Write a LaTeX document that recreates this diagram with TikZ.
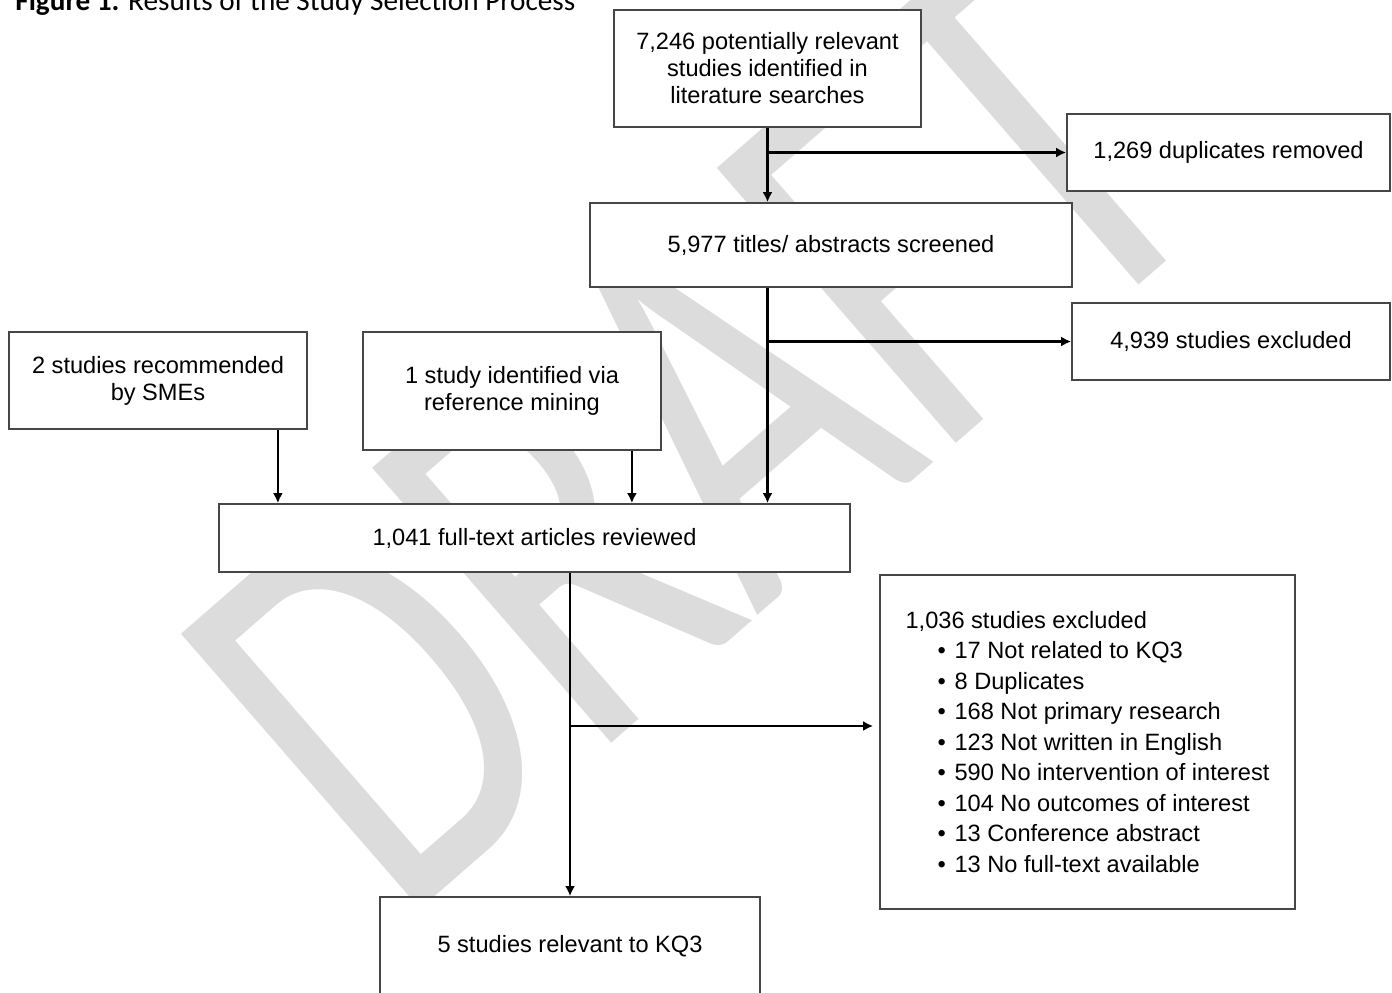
\documentclass[tikz,border=0pt]{standalone}
\usepackage{fontspec}
\setmainfont{Liberation Sans}
\newfontfamily\captionfont{Carlito}
\newfontfamily\wmfont[FakeStretch=0.72]{Carlito}
\usetikzlibrary{arrows.meta}
\definecolor{boxgray}{RGB}{70,70,70}
\definecolor{wmgray}{RGB}{220,220,220}

\begin{document}
\begin{tikzpicture}[x=0.5pt,y=-0.5pt,>={Latex[length=5pt,width=5pt]},
    box/.style={draw=boxgray,fill=white,line width=0.9pt,align=center,inner sep=0pt,
                font=\fontsize{11.8}{13.5}\selectfont},
    flow/.style={->,line width=1.35pt}]
    \useasboundingbox (0,0) rectangle (1392,992);
    % watermark
    \node[rotate=41,inner sep=0pt,text=wmgray,font=\wmfont\fontsize{284}{284}\selectfont] (draft) at (694,430) {DRAFT};
    \node[anchor=base west,inner sep=0pt,font=\captionfont\fontsize{14.6}{16}\selectfont] (fig) at (15,10) {\textbf{Figure 1.} Results of the Study Selection Process};
    % boxes
    \node[box,minimum width=153.5pt,minimum height=58.5pt] (found) at (767.5,68.5) {7,246 potentially relevant\\studies identified in\\literature searches};
    \node[box,minimum width=161.5pt,minimum height=38.5pt] (dups) at (1228.5,152.5) {1,269 duplicates removed};
    \node[box,minimum width=241pt,minimum height=42pt] (screened) at (831,245) {5,977 titles/ abstracts screened};
    \node[box,minimum width=159pt,minimum height=38.5pt] (excl) at (1231,341.5) {4,939 studies excluded};
    \node[box,minimum width=149pt,minimum height=48.5pt] (smes) at (158,380.5) {2 studies recommended\\by SMEs};
    \node[box,minimum width=149pt,minimum height=59pt] (refmine) at (512,391) {1 study identified via\\reference mining};
    \node[box,minimum width=315.5pt,minimum height=34pt] (fulltext) at (534.5,538) {1,041 full-text articles reviewed};
    \node[box,minimum width=207.5pt,minimum height=167pt,align=left,font=\fontsize{11.8}{15.25}\selectfont] (reasons) at (1087.5,742) {1,036 studies excluded\\
        \hspace*{16pt}\makebox[8.5pt][l]{\textbullet}17 Not related to KQ3\\
        \hspace*{16pt}\makebox[8.5pt][l]{\textbullet}8 Duplicates\\
        \hspace*{16pt}\makebox[8.5pt][l]{\textbullet}168 Not primary research\\
        \hspace*{16pt}\makebox[8.5pt][l]{\textbullet}123 Not written in English\\
        \hspace*{16pt}\makebox[8.5pt][l]{\textbullet}590 No intervention of interest\\
        \hspace*{16pt}\makebox[8.5pt][l]{\textbullet}104 No outcomes of interest\\
        \hspace*{16pt}\makebox[8.5pt][l]{\textbullet}13 Conference abstract\\
        \hspace*{16pt}\makebox[8.5pt][l]{\textbullet}13 No full-text available};
    \node[box,minimum width=190pt,minimum height=56.5pt,text height=8.5pt,text depth=10pt] (relevant) at (570,953.5) {5 studies relevant to KQ3};
    % arrows
    \coordinate (split) at ([yshift=8pt]reasons.west);
    \draw[flow] (found.south) -- (found.south |- screened.north);
    \draw[flow] (found.south |- dups.west) -- (dups.west);
    \draw[flow] (found.south |- screened.south) -- (found.south |- fulltext.north);
    \draw[flow] (found.south |- excl.west) -- (excl.west);
    \draw[flow] ([xshift=-15pt]smes.south east) -- ([xshift=-15pt]smes.south east |- fulltext.north);
    \draw[flow] ([xshift=-15pt]refmine.south east) -- ([xshift=-15pt]refmine.south east |- fulltext.north);
    \draw[flow] (relevant.north |- fulltext.south) -- (relevant.north);
    \draw[flow,shorten >=3pt] (relevant.north |- split) -- (split);
\end{tikzpicture}
\end{document}
